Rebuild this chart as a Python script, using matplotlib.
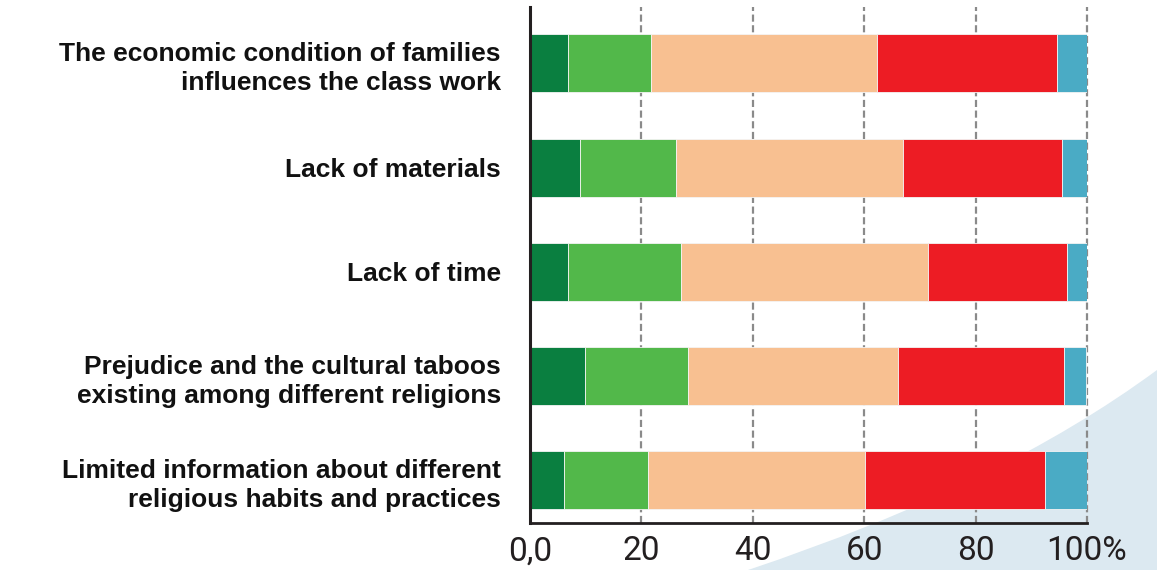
import matplotlib
matplotlib.use("Agg")
import matplotlib.pyplot as plt
from matplotlib.path import Path
from matplotlib.patches import PathPatch
import numpy as np

categories = [
    "The economic condition of families\ninfluences the class work",
    "Lack of materials",
    "Lack of time",
    "Prejudice and the cultural taboos\nexisting among different religions",
    "Limited information about different\nreligious habits and practices",
]
s1 = [6.9, 9.0, 6.9, 9.9, 6.1]
s2 = [14.8, 17.3, 20.2, 18.5, 15.1]
s3 = [40.6, 40.6, 44.4, 37.6, 38.9]
s4 = [32.4, 28.7, 24.9, 29.9, 32.4]
s5 = [5.3, 4.4, 3.6, 3.9, 7.5]
series = [s1, s2, s3, s4, s5]
colors = ["#0a7f40", "#52b84a", "#f8c091", "#ed1c24", "#4aabc5"]
xticks = [0, 20, 40, 60, 80, 100]
xticklabels = ["0,0", "20", "40", "60", "80", "100%"]

W, H = 1157, 570
fig = plt.figure(figsize=(W / 100, H / 100), dpi=100)
fig.patch.set_facecolor("white")

# decorative background swoosh (figure pixel coords)
verts = [(748 / W, 1 - 570 / H), (1000 / W, 1 - 486 / H), (1157 / W, 1 - 370 / H),
         (1157 / W, 0), (748 / W, 0)]
codes = [Path.MOVETO, Path.CURVE3, Path.CURVE3, Path.LINETO, Path.CLOSEPOLY]
fig.patches.append(PathPatch(Path(verts, codes), transform=fig.transFigure,
                             facecolor="#dce9f1", edgecolor="none", zorder=-10))

ax = fig.add_axes([530 / W, 1 - 523 / H, 557 / W, 516 / H])
ax.set_zorder(5)
ax.set_facecolor("none")

y = np.arange(len(categories))
left = np.zeros(len(categories))
for vals, c in zip(series, colors):
    ax.barh(y, vals, left=left, height=0.557, color=c, edgecolor="#f4f4f4",
            linewidth=0.6, zorder=3)
    left += np.array(vals)

ax.set_xlim(0, 100)
ax.set_ylim(4.41, -0.54)

for xv in xticks[1:]:
    ax.axvline(xv, color="#8a8a8a", lw=1.6, linestyle=(0, (3.2, 1.6)), zorder=1,
               clip_on=False)

ax.set_yticks(y)
ax.set_yticklabels(categories, fontsize=19, fontweight="bold",
                   family=["Liberation Sans", "DejaVu Sans"], color="#111111",
                   linespacing=1.3)
ax.set_xticks(xticks)
ax.set_xticklabels(xticklabels, fontsize=24, family=["Roboto", "DejaVu Sans"],
                   color="#231f20")
ax.tick_params(axis="y", length=0, pad=21)
ax.tick_params(axis="x", length=0, pad=9)

for side in ["top", "right"]:
    ax.spines[side].set_visible(False)
ax.spines["left"].set_linewidth(2.2)
ax.spines["bottom"].set_linewidth(2.0)
ax.spines["left"].set_color("#231f20")
ax.spines["bottom"].set_color("#231f20")
ax.spines["left"].set_zorder(5)

fig.savefig("out.png", dpi=100)
